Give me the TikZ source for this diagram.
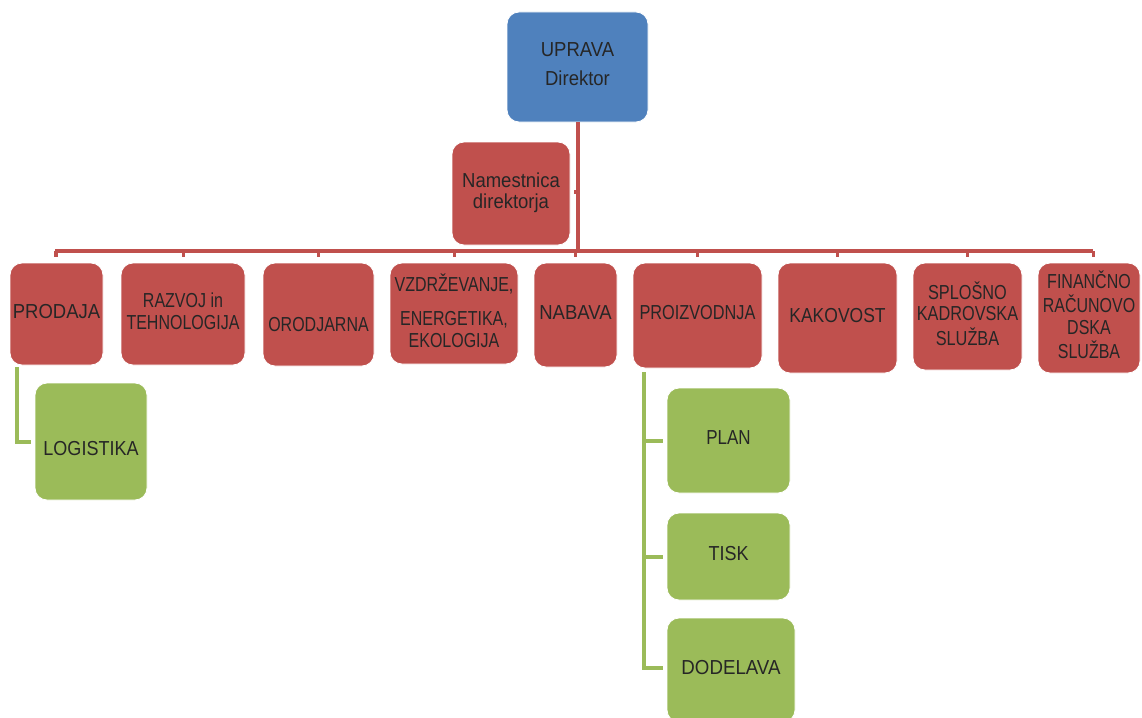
\documentclass[tikz,border=0pt]{standalone}
\usepackage{fontspec}
\setmainfont{Liberation Sans}
\usepackage{graphicx}
\definecolor{bred}{HTML}{C0504D}
\definecolor{bblue}{HTML}{4F81BD}
\definecolor{bgreen}{HTML}{9BBB59}
\newcommand{\bt}[2]{\pgfmathsetmacro\ysc{14.5/(0.716*#1)}\pgfmathsetmacro\bsk{#1*1.07}%
  \fontsize{#1}{\bsk}\selectfont\scalebox{1}[\ysc]{\begin{tabular}{@{}c@{}}#2\end{tabular}}}
\begin{document}
\begin{tikzpicture}[x=1pt,y=-1pt,
  box/.style={rounded corners=12pt, draw=white, line width=0.8pt, inner sep=0pt, align=center, text=black!85},
  redbox/.style={box, fill=bred},
  bluebox/.style={box, fill=bblue},
  greenbox/.style={box, fill=bgreen},
  lbl/.style={inner sep=0pt, text=black!85},
  rline/.style={draw=bred, line width=4pt},
  gline/.style={draw=bgreen, line width=4pt, line cap=rect}]
\useasboundingbox (0,0) rectangle (1142,717);
\clip (0,0) rectangle (1142,717);
% top
\node[bluebox, minimum width=141pt, minimum height=110pt] (upr) at (577.5,67) {\bt{18.5}{UPRAVA\\[6.5pt]Direktor}};
\node[redbox, minimum width=118pt, minimum height=103pt] (nam) at (511,193.5) {\bt{18.5}{Namestnica\\direktorja}};
% departments
\node[redbox, minimum width=93pt, minimum height=102pt] (prod) at (56.5,314) {\bt{18.5}{PRODAJA}};
\node[redbox, minimum width=124pt, minimum height=102pt] (razv) at (183,314) {\bt{16}{RAZVOJ in\\TEHNOLOGIJA}};
\node[redbox, minimum width=111pt, minimum height=103pt,
  label={[lbl, yshift=-12.5pt]center:\bt{16}{ORODJARNA}}] (orod) at (318.5,314.5) {};
\node[redbox, minimum width=128pt, minimum height=101pt] (vzdr) at (454,313.5) {\bt{16}{VZDRŽEVANJE,\\[10pt]ENERGETIKA,\\EKOLOGIJA}};
\node[redbox, minimum width=83pt, minimum height=104pt] (nab) at (575.5,315) {\bt{18.5}{NABAVA}};
\node[redbox, minimum width=129pt, minimum height=105pt] (proiz) at (697.5,315.5) {\bt{16.3}{PROIZVODNJA}};
\node[redbox, minimum width=119pt, minimum height=110pt] (kak) at (837.5,318) {\bt{17.5}{KAKOVOST}};
\node[redbox, minimum width=109pt, minimum height=107pt] (splo) at (967.5,316.5) {\bt{16.3}{SPLOŠNO\\KADROVSKA\\SLUŽBA}};
\node[redbox, minimum width=102pt, minimum height=110pt] (fin) at (1089,318) {\bt{16}{FINANČNO\\RAČUNOVO\\DSKA\\SLUŽBA}};
% green
\node[greenbox, minimum width=112pt, minimum height=117pt,
  label={[lbl, yshift=-9.5pt]center:\bt{18}{LOGISTIKA}}] (log) at (91,441.5) {};
\node[greenbox, minimum width=123pt, minimum height=105pt] (plan) at (728.5,440.5) {\bt{17}{PLAN}};
\node[greenbox, minimum width=123pt, minimum height=87pt] (tisk) at (728.5,556.5) {\bt{18}{TISK}};
\node[greenbox, minimum width=128pt, minimum height=104pt] (dod) at (731,670) {\bt{18.7}{DODELAVA}};
% red connectors
\coordinate (barL) at (55,251);
\coordinate (barR) at (1093,251);
\coordinate (tick) at (577.5,192);
\draw[rline] (upr.south) -- (upr.south |- barL);
\draw[rline] (tick) -- ++(-4,0);
\draw[rline] (barL) -- (barR);
\foreach \n in {prod,razv,orod,vzdr,nab,proiz,kak,splo}{
  \draw[draw=bred, line width=3pt] (\n.north |- barL) -- ++(0,6);
}
\draw[draw=bred, line width=3pt] (barR) -- ++(0,6);
\draw[draw=bred, line width=3pt] (barL) -- ++(0,6);
% green connectors
\coordinate (lt) at (17,369);
\coordinate (pt) at (644,374);
\draw[gline, shorten >=6pt] (lt) |- (log.west);
\draw[gline, shorten >=6pt] (pt) |- (plan.west);
\draw[gline, shorten >=6pt] (pt) |- (tisk.west);
\draw[gline, shorten >=6pt] (pt) |- ([yshift=2pt]dod.west);
\end{tikzpicture}
\end{document}
